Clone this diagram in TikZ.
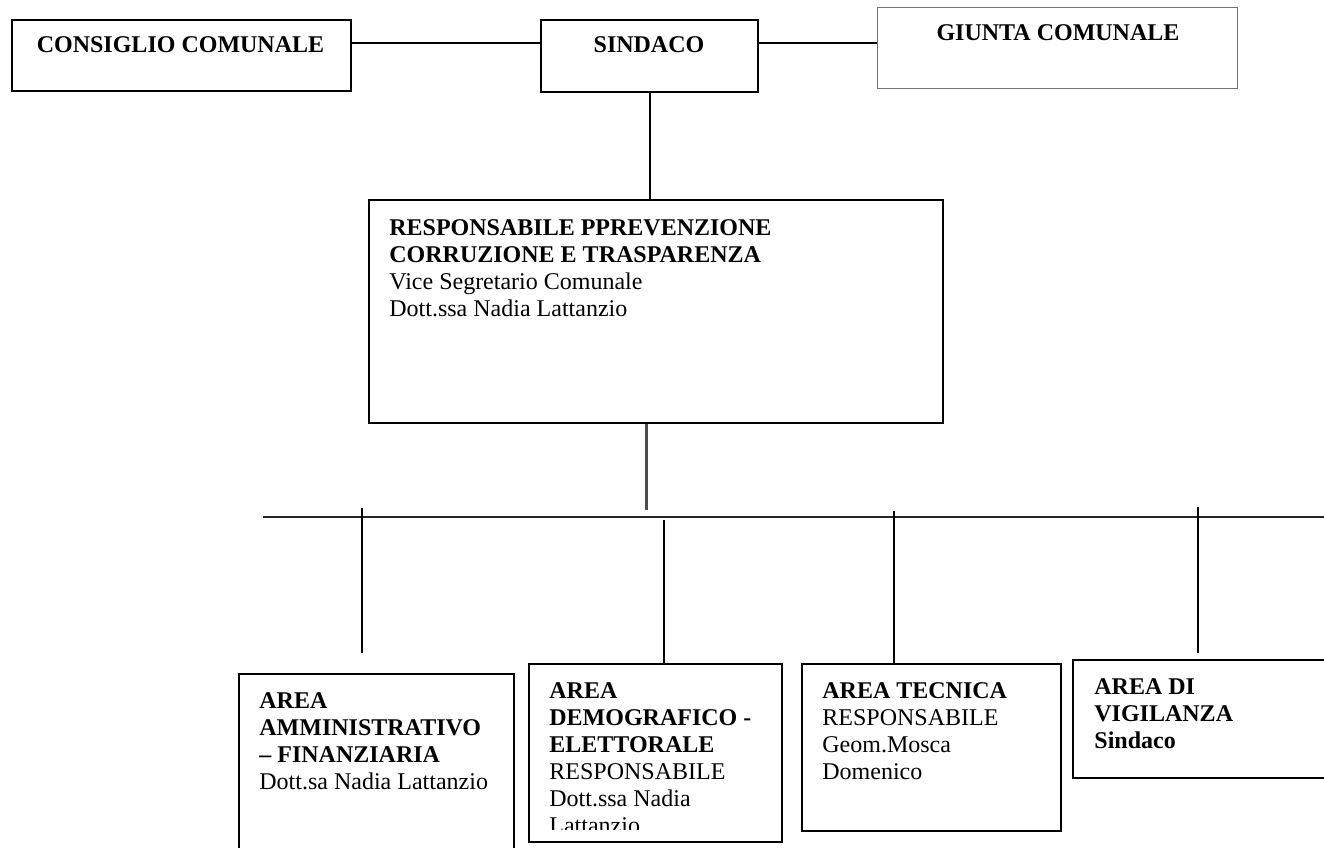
\documentclass[tikz,border=0pt]{standalone}
\usepackage{fontspec}
\setmainfont{Liberation Serif}

\tikzset{
  orgbox/.style={draw, line width=1pt, anchor=north west, inner sep=0pt},
  orgtext/.style={anchor=north west, inner sep=0pt, align=left, font=\fontsize{12}{13.5}\selectfont},
  link/.style={line width=1pt},
}

\begin{document}
\begin{tikzpicture}[x=0.5pt, y=-0.5pt]
    \clip (0,0) rectangle (1324,847);

    % top row
    \node[orgbox, minimum width=169.5pt, minimum height=35.5pt] (cons) at (11,19) {};
    \node[orgbox, minimum width=108.5pt, minimum height=36pt] (sind) at (540,19) {};
    \node[orgbox, draw=black!55, line width=0.6pt, minimum width=180pt, minimum height=40.5pt] (giun) at (877,7) {};
    \node[orgtext, anchor=base] (cons-t) at (180.5,52) {\textbf{CONSIGLIO COMUNALE}};
    \node[orgtext, anchor=base] (sind-t) at (649,52) {\textbf{SINDACO}};
    \node[orgtext, anchor=base] (giun-t) at (1058,40) {\textbf{GIUNTA COMUNALE}};

    % responsabile
    \node[orgbox, minimum width=287pt, minimum height=111.5pt] (rpc) at (368,199) {};
    \node[orgtext] (rpc-t) at (389,219) {\textbf{RESPONSABILE PPREVENZIONE}\\
        \textbf{CORRUZIONE E TRASPARENZA}\\ Vice Segretario Comunale\\ Dott.ssa Nadia Lattanzio};

    % aree
    \node[orgbox, minimum width=137.5pt, minimum height=100pt] (amm) at (238,673) {};
    \node[orgbox, minimum width=126.5pt, minimum height=89pt] (dem) at (528,663) {};
    \node[orgbox, minimum width=129.5pt, minimum height=83.5pt] (tec) at (801,663) {};
    \node[orgbox, minimum width=150pt, minimum height=59pt] (vig) at (1072,659) {};
    \node[orgtext] (amm-t) at (259,692) {\textbf{AREA}\\ \textbf{AMMINISTRATIVO}\\
        \textbf{-- FINANZIARIA}\\ Dott.sa Nadia Lattanzio};
    \begin{scope}
        \clip (528,663) rectangle (781,829); % last line cut off
        \node[orgtext] (dem-t) at (549,682) {\textbf{AREA}\\ \textbf{DEMOGRAFICO -}\\
            \textbf{ELETTORALE}\\ RESPONSABILE\\ Dott.ssa Nadia\\ Lattanzio};
    \end{scope}
    \node[orgtext] (tec-t) at (822,682) {\textbf{AREA TECNICA}\\ RESPONSABILE\\
        Geom.Mosca\\ Domenico};
    \node[orgtext] (vig-t) at (1094,678) {\textbf{AREA DI}\\ \textbf{VIGILANZA}\\ \textbf{Sindaco}};

    % connectors
    \coordinate (toprow) at (0,43);
    \coordinate (drop) at (646,510);
    \coordinate (busl) at (263,517);
    \coordinate (busr) at (1330,517);
    \coordinate (b1) at (362,508);
    \coordinate (b2) at (664,520);
    \coordinate (b3) at (894,511);
    \coordinate (b4) at (1198,507);

    \draw[link] (cons.east |- toprow) -- (sind.west |- toprow); % consiglio - sindaco
    \draw[link] (sind.east |- toprow) -- (giun.west |- toprow); % sindaco - giunta
    \draw[link] (sind.south) -- (sind.south |- rpc.north); % sindaco - responsabile
    \draw[line width=1.5pt, black!70] (drop |- rpc.south) -- (drop); % responsabile - aree
    \draw[line width=1.2pt, black!85] (busl) -- (busr);
    \draw[link] (b1) -- ([yshift=10pt]b1 |- amm.north); % gap above box
    \draw[link] (b2) -- (b2 |- dem.north);
    \draw[link] (b3) -- (b3 |- tec.north);
    \draw[link] (b4) -- ([yshift=3pt]b4 |- vig.north); % gap above box

\end{tikzpicture}
\end{document}
